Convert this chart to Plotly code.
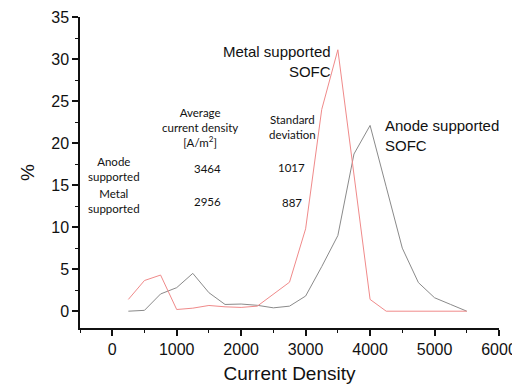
import plotly.graph_objects as go

current_density = [250, 500, 750, 1000, 1250, 1500, 1750, 2000, 2250, 2500, 2750,
                   3000, 3250, 3500, 3750, 4000, 4250, 4500, 4750, 5000, 5250, 5500]
metal_supported = [1.4, 3.65, 4.3, 0.2, 0.36, 0.68, 0.52, 0.45, 0.6, 2.0, 3.45,
                   9.8, 24.0, 31.1, 16.5, 1.4, 0.0, 0.0, 0.0, 0.0, 0.0, 0.0]
anode_supported = [0.0, 0.1, 2.05, 2.8, 4.5, 2.2, 0.8, 0.85, 0.7, 0.4, 0.6,
                   1.8, 5.3, 9.0, 18.7, 22.1, 14.8, 7.5, 3.4, 1.6, 0.8, 0.0]

x_ticks = [0, 1000, 2000, 3000, 4000, 5000, 6000]
y_ticks = [0, 5, 10, 15, 20, 25, 30, 35]

fig = go.Figure()
fig.add_trace(go.Scatter(x=current_density, y=anode_supported, mode="lines",
                         line=dict(color="#8a8a8a", width=1), name="Anode supported SOFC"))
fig.add_trace(go.Scatter(x=current_density, y=metal_supported, mode="lines",
                         line=dict(color="#f08a8a", width=1), name="Metal supported SOFC"))

big = dict(family="Liberation Sans, Arial, sans-serif", size=15, color="#111")
small = dict(family="Lato, Noto Sans, sans-serif", size=11.5, color="#111")

ann = [
    dict(x=3422, y=29.65, text="Metal supported<br>SOFC", xanchor="right", align="right", font=big),
    dict(x=4197, y=20.9, text="Anode supported<br>SOFC", xanchor="left", align="left", font=big),
    dict(x=1362, y=21.9, text="Average<br>current density<br>[A/m<sup>2</sup>]", xanchor="center", align="center", font=small),
    dict(x=2797, y=21.9, text="Standard<br>deviation", xanchor="center", align="center", font=small),
    dict(x=26, y=16.95, text="Anode<br>supported", xanchor="center", align="center", font=small),
    dict(x=1484, y=16.95, text="3464", xanchor="center", font=small),
    dict(x=2786, y=17.1, text="1017", xanchor="center", font=small),
    dict(x=26, y=13.15, text="Metal<br>supported", xanchor="center", align="center", font=small),
    dict(x=1484, y=13.0, text="2956", xanchor="center", font=small),
    dict(x=2786, y=12.9, text="887", xanchor="center", font=small),
]
for a in ann:
    a.update(showarrow=False, yanchor="middle", xref="x", yref="y")

# page body has an 8px default margin, so the figure is sized to fit the window
fig.update_layout(
    width=512, height=380,
    margin=dict(l=72, r=21, t=9, b=60),
    paper_bgcolor="white", plot_bgcolor="white",
    showlegend=False,
    font=dict(family="Liberation Sans, Arial, sans-serif", size=16, color="#111"),
    annotations=ann,
    xaxis=dict(range=[-500, 6000], tickvals=x_ticks, showgrid=False, zeroline=False,
               automargin=False,
               showline=True, linecolor="#111", linewidth=1.5,
               ticks="outside", ticklen=6, tickwidth=1.5, tickcolor="#111",
               minor=dict(ticks="outside", ticklen=3, dtick=500, tick0=0, tickcolor="#111", tickwidth=1.2),
               title=dict(text="Current Density", font=dict(size=19), standoff=10),
               tickfont=dict(size=16)),
    yaxis=dict(range=[-2, 35], tickvals=y_ticks, showgrid=False, zeroline=False,
               automargin=False,
               showline=True, linecolor="#111", linewidth=1.5,
               ticks="outside", ticklen=6, tickwidth=1.5, tickcolor="#111",
               minor=dict(ticks="outside", ticklen=3, dtick=2.5, tick0=0, tickcolor="#111", tickwidth=1.2),
               title=dict(text="%", font=dict(size=19), standoff=12),
               tickfont=dict(size=16)),
)

fig.write_html("out.html")
